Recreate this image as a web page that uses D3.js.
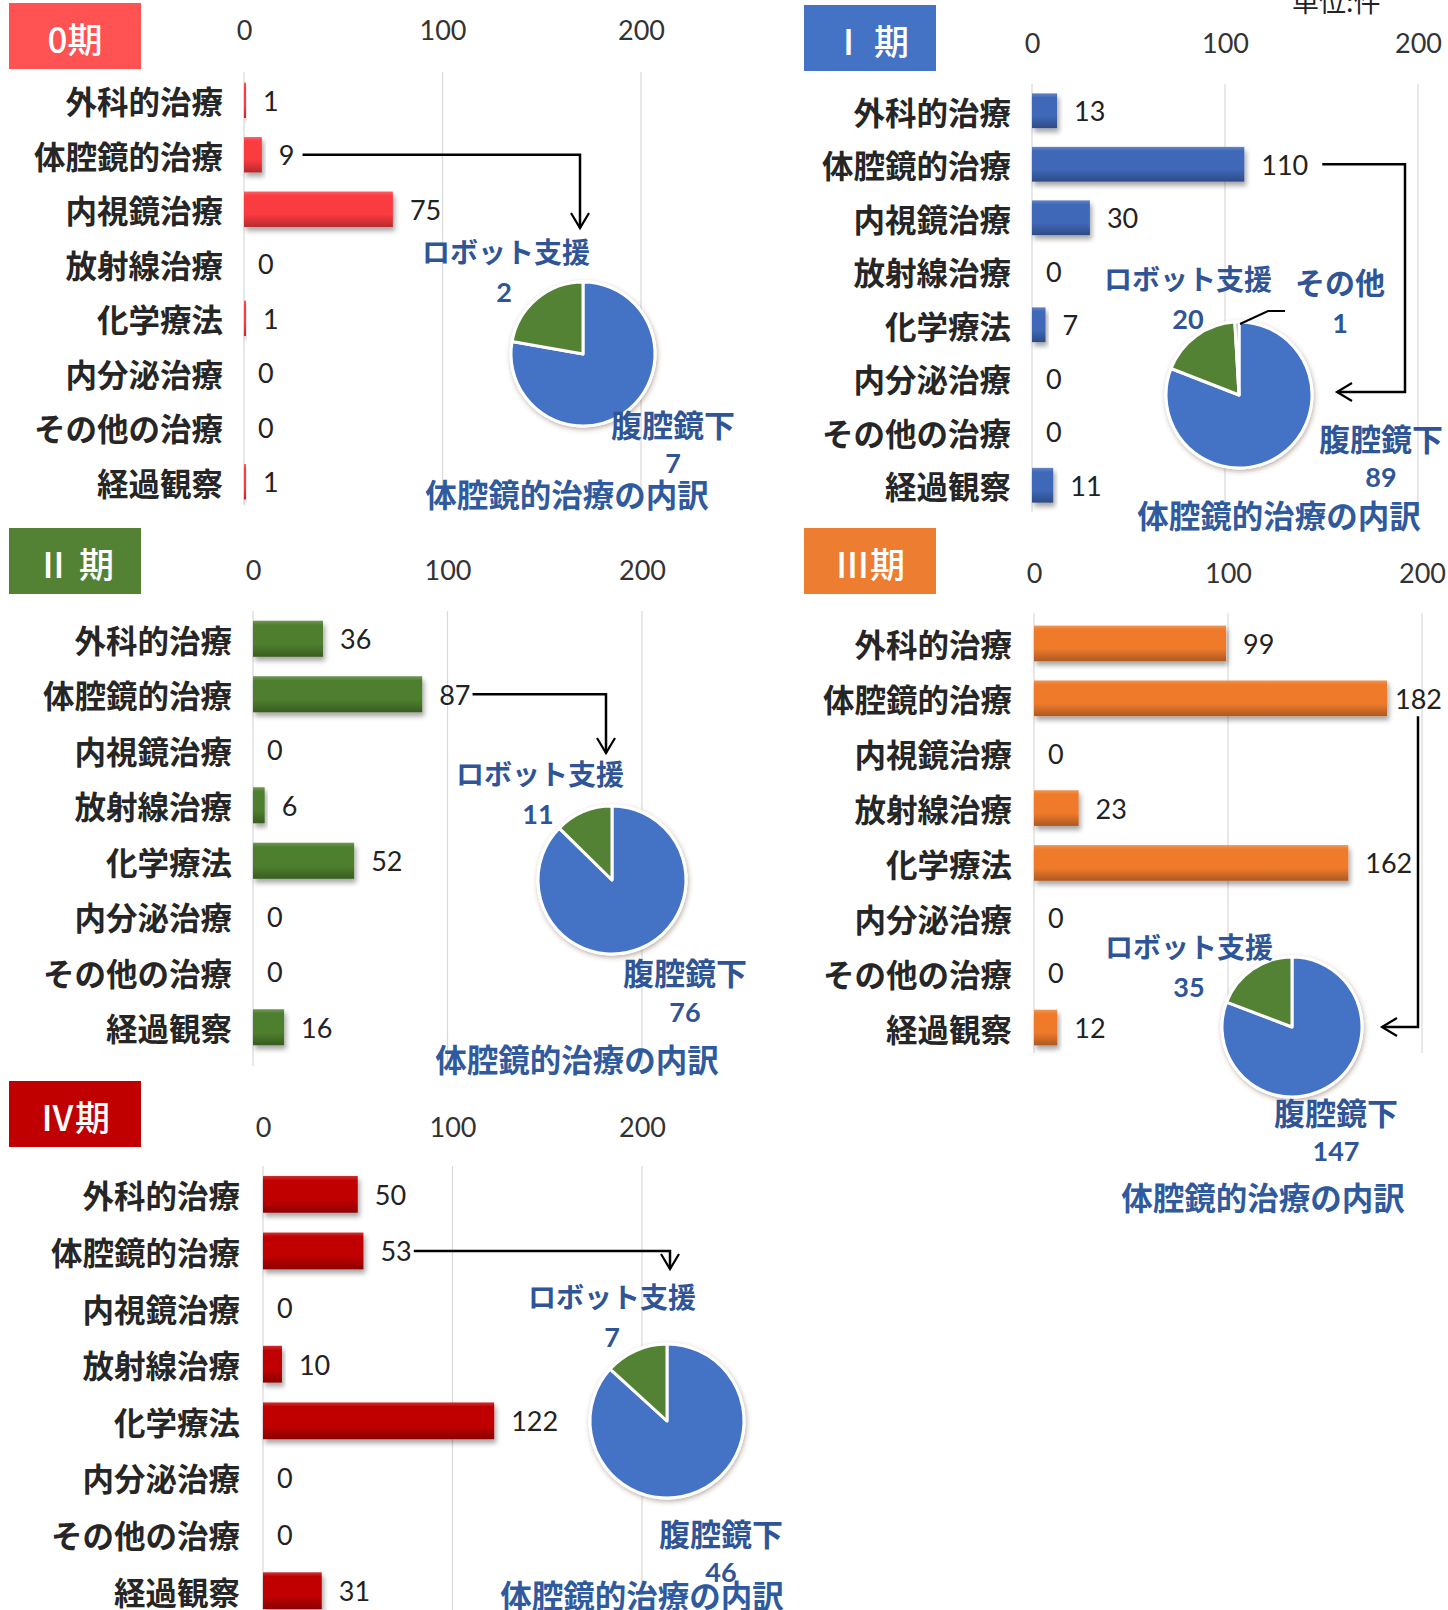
<!DOCTYPE html>
<html>
<head>
<meta charset="utf-8">
<script src="https://cdn.jsdelivr.net/npm/d3@7"></script>
<style>
  body { margin: 0; background: #ffffff; }
  svg { display: block; }
</style>
</head>
<body>
<svg id="chart" width="1448" height="1610"></svg>
<script>
// ---- data ----
const categories = ['外科的治療', '体腔鏡的治療', '内視鏡治療', '放射線治療', '化学療法', '内分泌治療', 'その他の治療', '経過観察'];
const stageNames = ['0期', 'Ⅰ 期', 'Ⅱ 期', 'Ⅲ期', 'Ⅳ期'];
const stage0Counts = [1, 9, 75, 0, 1, 0, 0, 1];
const stage1Counts = [13, 110, 30, 0, 7, 0, 0, 11];
const stage2Counts = [36, 87, 0, 6, 52, 0, 0, 16];
const stage3Counts = [99, 182, 0, 23, 162, 0, 0, 12];
const stage4Counts = [50, 53, 0, 10, 122, 0, 0, 31];
const tickValues = [0, 100, 200];

const breakdownNames = ['腹腔鏡下', 'ロボット支援', 'その他'];
const breakdown0 = [7, 2, 0];
const breakdown1 = [89, 20, 1];
const breakdown2 = [76, 11, 0];
const breakdown3 = [147, 35, 0];
const breakdown4 = [46, 7, 0];
const breakdownTitle = '体腔鏡的治療の内訳';
const unitLabel = '単位:件';

// ---- styling ----
const stageColors = ['#FF5353', '#4472C4', '#548235', '#ED7D31', '#C00000'];
const barColors = ['#FA3A40', '#3F68B8', '#4E7F2E', '#EE7A2C', '#C00000'];
const pieColors = ['#4472C4', '#548235', '#A5A5A5'];
const pieText = '#2F5597';
const jpFont = '"Noto Sans CJK JP", "Noto Sans", sans-serif';
const numFont = 'Lato, "Open Sans", sans-serif';

const allCounts = [stage0Counts, stage1Counts, stage2Counts, stage3Counts, stage4Counts];
const allBreakdowns = [breakdown0, breakdown1, breakdown2, breakdown3, breakdown4];

// panel placement
const panels = [
  { box: [9, 3], xr: [244, 641], tickY: 31, band: [73, 509], grid: [72, 505], labelRight: 223,
    pie: [583, 354, 72], robot: [506, 251, 504, 291], lap: [673, 423, 673, 462], title: [567, 493],
    arrow: { gap: 8, route: [[580, null], [580, 228]], head: 'down' } },
  { box: [804, 5], xr: [1032, 1418], tickY: 44, band: [84, 512], grid: [84, 512], labelRight: 1011,
    pie: [1239, 395, 73], robot: [1188, 278, 1188, 318], lap: [1381, 437, 1381, 476], title: [1279, 514],
    other: [1340, 281, 1340, 322], leader: [[1285, 311], [1268, 311], [1240, 324]],
    arrow: { gap: 14, route: [[1405, null], [1405, 392], [1337, 392]], head: 'left' } },
  { box: [9, 528], xr: [253, 642], tickY: 571, band: [611, 1055], grid: [611, 1066], labelRight: 232,
    pie: [612, 880, 74], robot: [540, 773, 538, 813], lap: [685, 971, 685, 1011], title: [577, 1058],
    arrow: { gap: 2, route: [[606, null], [606, 753]], head: 'down' } },
  { box: [804, 528], xr: [1034, 1422], tickY: 574, band: [616, 1055], grid: [613, 1053], labelRight: 1012,
    pie: [1292, 1027, 70], robot: [1189, 946, 1189, 986], lap: [1336, 1111, 1336, 1150], title: [1263, 1196],
    arrow: { below: true, x: 1418, route: [[1418, 1027], [1382, 1027]], head: 'left' } },
  { box: [9, 1081], xr: [263, 642], tickY: 1128, band: [1166, 1619], grid: [1166, 1610], labelRight: 240,
    pie: [667, 1421, 77], robot: [612, 1296, 612, 1336], lap: [721, 1532, 721, 1571], title: [642, 1594],
    arrow: { gap: 2, route: [[670, null], [670, 1269]], head: 'down' } }
];

const svg = d3.select('#chart');
const defs = svg.append('defs');

const shadow = defs.append('filter').attr('id', 'barShadow')
  .attr('x', '-10%').attr('y', '-30%').attr('width', '130%').attr('height', '180%');
shadow.append('feDropShadow').attr('dx', 2).attr('dy', 4).attr('stdDeviation', 2.5)
  .attr('flood-color', '#000').attr('flood-opacity', 0.35);

const pieShadow = defs.append('filter').attr('id', 'pieShadow')
  .attr('x', '-20%').attr('y', '-20%').attr('width', '140%').attr('height', '140%');
pieShadow.append('feDropShadow').attr('dx', 1).attr('dy', 2).attr('stdDeviation', 2.5)
  .attr('flood-color', '#5a3a2a').attr('flood-opacity', 0.4);

barColors.forEach((c, i) => {
  const g = defs.append('linearGradient').attr('id', 'barGrad' + i)
    .attr('x1', 0).attr('y1', 0).attr('x2', 0).attr('y2', 1);
  const base = d3.color(c);
  g.append('stop').attr('offset', '0%').attr('stop-color', d3.interpolateRgb(base, '#ffffff')(0.2));
  g.append('stop').attr('offset', '12%').attr('stop-color', base.formatHex());
  g.append('stop').attr('offset', '65%').attr('stop-color', base.formatHex());
  g.append('stop').attr('offset', '100%').attr('stop-color', base.darker(0.9).formatHex());
});

// unit note at the top right
svg.append('text').attr('x', 1292).attr('y', 12)
  .attr('font-family', jpFont).attr('font-size', 27).attr('fill', '#222')
  .text(unitLabel);

panels.forEach((p, i) => {
  const counts = allCounts[i];
  const g = svg.append('g');

  const x = d3.scaleLinear().domain([0, 200]).range(p.xr);
  const y = d3.scaleBand().domain(categories).range(p.band).paddingInner(0.35).paddingOuter(0.175);

  // gridlines
  g.append('g').selectAll('line').data(tickValues).join('line')
    .attr('x1', d => x(d)).attr('x2', d => x(d))
    .attr('y1', p.grid[0]).attr('y2', p.grid[1])
    .attr('stroke', '#D9D9D9').attr('stroke-width', 1.2);

  // top axis tick labels
  const axis = d3.axisTop(x).tickValues(tickValues).tickSize(0).tickPadding(0);
  const ag = g.append('g').attr('transform', `translate(0,${p.tickY})`).call(axis);
  ag.select('.domain').remove();
  ag.selectAll('text').attr('font-family', numFont).attr('font-size', 27).attr('fill', '#333')
    .attr('dy', '0.35em');

  // breakdown pie
  const [cx, cy, r] = p.pie;
  const slices = d3.pie().sort(null).value(d => d.v)(
    breakdownNames.map((n, k) => ({ n, v: allBreakdowns[i][k], k })).filter(d => d.v > 0));
  const arc = d3.arc().innerRadius(0).outerRadius(r);
  const pg = g.append('g').attr('transform', `translate(${cx},${cy})`);
  pg.append('circle').attr('r', r + 1.5).attr('fill', '#fff').attr('filter', 'url(#pieShadow)');
  pg.selectAll('path').data(slices).join('path')
    .attr('d', arc).attr('fill', d => pieColors[d.data.k])
    .attr('stroke', '#fff').attr('stroke-width', 3).attr('stroke-linejoin', 'round');

  const pieLabel = (pos, k, size) => {
    g.append('text').attr('x', pos[0]).attr('y', pos[1]).attr('text-anchor', 'middle')
      .attr('dominant-baseline', 'central').attr('font-family', jpFont).attr('font-weight', 700)
      .attr('font-size', size).attr('fill', pieText).text(breakdownNames[k]);
    g.append('text').attr('x', pos[2]).attr('y', pos[3]).attr('text-anchor', 'middle')
      .attr('dominant-baseline', 'central').attr('font-family', numFont).attr('font-weight', 700)
      .attr('font-size', 27).attr('fill', pieText).text(allBreakdowns[i][k]);
  };
  pieLabel(p.robot, 1, 28);
  pieLabel(p.lap, 0, 31);
  if (p.other) {
    pieLabel(p.other, 2, 30);
    g.append('path').attr('d', d3.line()(p.leader)).attr('fill', 'none')
      .attr('stroke', '#000').attr('stroke-width', 2);
  }
  g.append('text').attr('x', p.title[0]).attr('y', p.title[1]).attr('text-anchor', 'middle')
    .attr('dominant-baseline', 'central').attr('font-family', jpFont).attr('font-weight', 700)
    .attr('font-size', 31.5).attr('fill', '#2F5A9E').text(breakdownTitle);

  // stage badge
  g.append('rect').attr('x', p.box[0]).attr('y', p.box[1]).attr('width', 132).attr('height', 66)
    .attr('fill', stageColors[i]);
  g.append('text').attr('x', p.box[0] + 66).attr('y', p.box[1] + 34).attr('text-anchor', 'middle')
    .attr('dominant-baseline', 'central').attr('font-family', jpFont).attr('font-weight', 500)
    .attr('font-size', 35).attr('fill', '#fff').text(stageNames[i]);

  // category labels
  g.append('g').selectAll('text').data(categories).join('text')
    .attr('x', p.labelRight).attr('y', d => y(d) + y.bandwidth() / 2)
    .attr('text-anchor', 'end').attr('dominant-baseline', 'central')
    .attr('font-family', jpFont).attr('font-weight', 700).attr('font-size', 31.5).attr('fill', '#262626')
    .text(d => d);

  // bars
  g.append('g').selectAll('rect').data(counts.map((v, k) => ({ v, c: categories[k] })).filter(d => d.v > 0))
    .join('rect')
    .attr('x', x(0)).attr('y', d => y(d.c))
    .attr('width', d => Math.max(x(d.v) - x(0), 1.5)).attr('height', y.bandwidth())
    .attr('fill', `url(#barGrad${i})`).attr('filter', 'url(#barShadow)');

  // value labels
  const maxRight = p.xr[1] + 20;
  const vals = g.append('g').selectAll('text').data(counts.map((v, k) => ({ v, c: categories[k] })))
    .join('text')
    .attr('y', d => y(d.c) + y.bandwidth() / 2)
    .attr('dominant-baseline', 'central')
    .attr('font-family', numFont).attr('font-size', 27).attr('fill', '#222')
    .text(d => d.v);
  vals.each(function (d) {
    const w = this.getComputedTextLength();
    const start = d.v > 0 ? x(d.v) + 17 : x(0) + 14;
    d.lx = Math.min(start, maxRight - w);
    d.rx = d.lx + w;
    d3.select(this).attr('x', d.lx);
  });

  // connector arrow from the endoscopic-treatment value to the pie
  const key = vals.filter(d => d.c === '体腔鏡的治療').datum();
  const rowY = y(key.c) + y.bandwidth() / 2;
  let pts;
  if (p.arrow.below) {
    pts = [[p.arrow.x, rowY + 18]].concat(p.arrow.route);
  } else {
    pts = [[key.rx + p.arrow.gap, rowY]].concat(p.arrow.route.map(q => [q[0], q[1] === null ? rowY : q[1]]));
  }
  g.append('path').attr('d', d3.line()(pts)).attr('fill', 'none')
    .attr('stroke', '#000').attr('stroke-width', 2.5);
  const tip = pts[pts.length - 1];
  const head = p.arrow.head === 'down'
    ? [[tip[0] - 9, tip[1] - 15], tip, [tip[0] + 9, tip[1] - 15]]
    : [[tip[0] + 15, tip[1] - 9], tip, [tip[0] + 15, tip[1] + 9]];
  g.append('path').attr('d', d3.line()(head)).attr('fill', 'none')
    .attr('stroke', '#000').attr('stroke-width', 2.2);
});
</script>
</body>
</html>
